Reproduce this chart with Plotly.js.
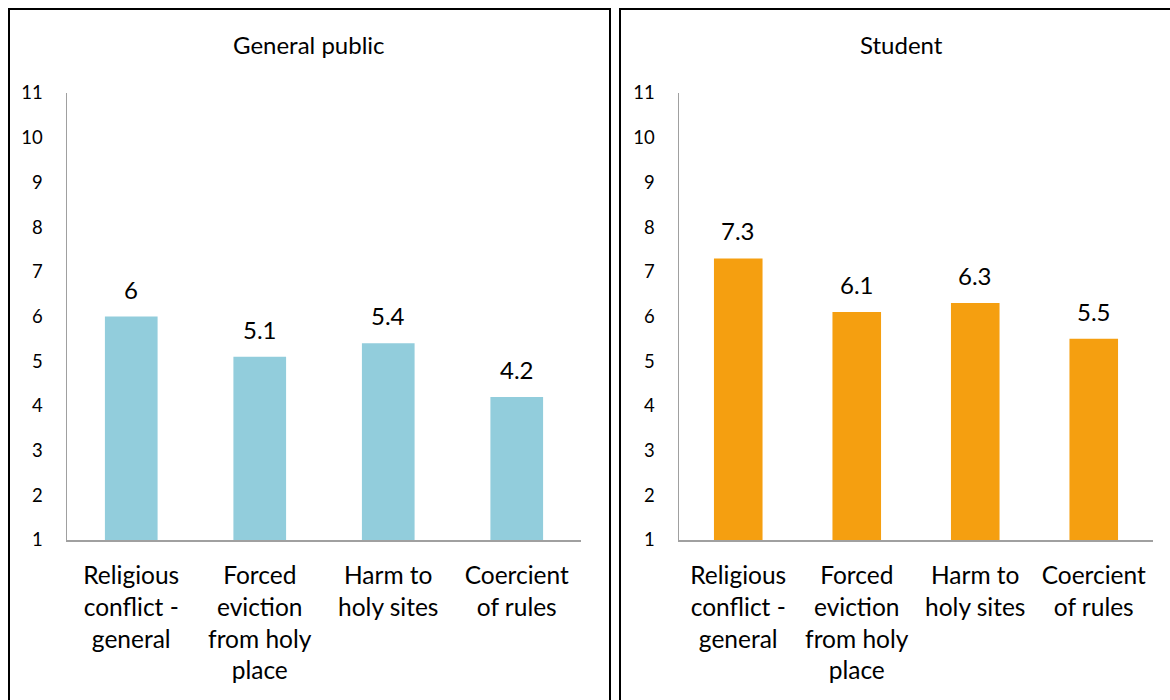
<!DOCTYPE html>
<html>
<head>
<meta charset="utf-8">
<script src="https://cdn.plot.ly/plotly-3.0.1.min.js"></script>
<style>html,body{margin:0;padding:0;background:#fff;}#chart{width:1170px;height:700px;}</style>
</head>
<body>
<div id="chart"></div>
<script>
const categories = [
  "Religious<br>conflict -<br>general",
  "Forced<br>eviction<br>from holy<br>place",
  "Harm to<br>holy sites",
  "Coercient<br>of rules"
];
const generalPublic = [6, 5.1, 5.4, 4.2];
const student = [7.3, 6.1, 6.3, 5.5];
const panelTitles = ["General public", "Student"];
const yTicks = [1, 2, 3, 4, 5, 6, 7, 8, 9, 10, 11];

const W = 1170, H = 700;
const px = v => v / W;
const py = v => 1 - v / H;
const FONT = "Lato, Carlito, 'Open Sans', sans-serif";

const traces = [
  {type: "bar", x: categories, y: generalPublic, xaxis: "x", yaxis: "y",
   marker: {color: "#92CDDC"}, hoverinfo: "skip"},
  {type: "bar", x: categories, y: student, xaxis: "x2", yaxis: "y2",
   marker: {color: "#F59F10"}, hoverinfo: "skip"}
];

const annotations = [];
generalPublic.forEach((v, i) => annotations.push({
  x: categories[i], y: v, xref: "x", yref: "y", text: String(v), showarrow: false,
  yanchor: "bottom", yshift: 11, font: {family: FONT, size: 24, color: "#000"}
}));
student.forEach((v, i) => annotations.push({
  x: categories[i], y: v, xref: "x2", yref: "y2", text: String(v), showarrow: false,
  yanchor: "bottom", yshift: 11, font: {family: FONT, size: 24, color: "#000"}
}));
annotations.push({x: px(309), y: py(45), xref: "paper", yref: "paper", text: panelTitles[0],
  showarrow: false, xanchor: "center", yanchor: "middle", font: {family: FONT, size: 24, color: "#000"}});
annotations.push({x: px(901), y: py(45), xref: "paper", yref: "paper", text: panelTitles[1],
  showarrow: false, xanchor: "center", yanchor: "middle", font: {family: FONT, size: 24, color: "#000"}});

const xCommon = {
  type: "category", showline: true, linecolor: "#a0a0a0", linewidth: 1.5,
  showgrid: false, zeroline: false, ticks: "outside", ticklen: 13,
  tickcolor: "rgba(0,0,0,0)", tickfont: {family: FONT, size: 24.5, color: "#000"},
  tickangle: 0, fixedrange: true
};
const yCommon = {
  range: [1, 11], tickvals: yTicks, ticktext: yTicks.map(String),
  showline: true, linecolor: "#a0a0a0", linewidth: 1.5,
  showgrid: false, zeroline: false, ticks: "outside", ticklen: 19,
  tickcolor: "rgba(0,0,0,0)", tickfont: {family: FONT, size: 18.5, color: "#000"},
  fixedrange: true
};

const yDom = [py(540), py(93)];
const layout = {
  width: W, height: H,
  margin: {l: 0, r: 0, t: 0, b: 0},
  paper_bgcolor: "#fff", plot_bgcolor: "#fff",
  showlegend: false, bargap: 0.59,
  font: {family: FONT, color: "#000"},
  xaxis: Object.assign({}, xCommon, {domain: [px(67), px(581)], anchor: "y"}),
  yaxis: Object.assign({}, yCommon, {domain: yDom, anchor: "x"}),
  xaxis2: Object.assign({}, xCommon, {domain: [px(679), px(1153)], anchor: "y2"}),
  yaxis2: Object.assign({}, yCommon, {domain: yDom, anchor: "x2"}),
  annotations: annotations,
  shapes: [
    {type: "line", xref: "paper", yref: "paper", x0: px(9), x1: px(9), y0: py(8), y1: py(702), line: {color: "#000", width: 2}},
    {type: "line", xref: "paper", yref: "paper", x0: px(8), x1: px(611), y0: py(9), y1: py(9), line: {color: "#000", width: 2}},
    {type: "line", xref: "paper", yref: "paper", x0: px(610), x1: px(610), y0: py(8), y1: py(702), line: {color: "#000", width: 2}},
    {type: "line", xref: "paper", yref: "paper", x0: px(620), x1: px(620), y0: py(8), y1: py(702), line: {color: "#000", width: 2}},
    {type: "line", xref: "paper", yref: "paper", x0: px(619), x1: px(1172), y0: py(9), y1: py(9), line: {color: "#000", width: 2}}
  ]
};

Plotly.newPlot("chart", traces, layout, {displayModeBar: false, staticPlot: true});
</script>
</body>
</html>
